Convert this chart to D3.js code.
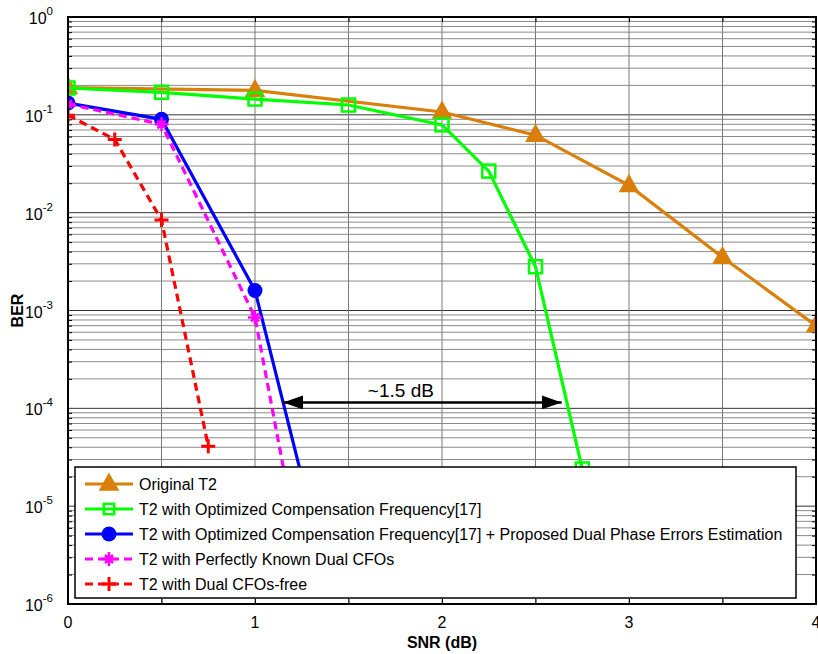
<!DOCTYPE html>
<html>
<head>
<meta charset="utf-8">
<script src="https://cdn.jsdelivr.net/npm/d3@7"></script>
<style>
  body { margin: 0; background: #fff; }
  svg { display: block; font-family: "Liberation Sans", Arial, sans-serif; }
</style>
</head>
<body>
<div class="chart"></div>
<script>
// values
const snrOrig = [0, 1, 2, 2.5, 3, 3.5, 4];
const berOrig = [0.19, 0.178, 0.107, 0.062, 0.019, 0.0035, 0.0007];

const snrOpt = [0, 0.5, 1, 1.5, 2, 2.25, 2.5, 2.75];
const berOpt = [0.188, 0.17, 0.145, 0.126, 0.079, 0.0266, 0.0028, 2.4e-5];

const snrProp = [0, 0.5, 1, 1.25];
const berProp = [0.132, 0.09, 0.0016, 2e-5];

const snrPerf = [0, 0.5, 1, 1.25];
const berPerf = [0.129, 0.08, 0.00085, 2.5e-6];

const snrFree = [0, 0.25, 0.5, 0.75];
const berFree = [0.099, 0.056, 0.0084, 4.1e-5];

const xTicks = [0, 0.5, 1, 1.5, 2, 2.5, 3, 3.5, 4];
const xLabels = ["0", "", "1", "", "2", "", "3", "", "4"];
const yExps = [0, -1, -2, -3, -4, -5, -6];

const legendNames = [
  "Original T2",
  "T2 with Optimized Compensation Frequency[17]",
  "T2 with Optimized Compensation Frequency[17] + Proposed Dual Phase Errors Estimation",
  "T2 with Perfectly Known Dual CFOs",
  "T2 with Dual CFOs-free",
];

const series = [
  { x: snrOrig, y: berOrig, color: "#d97f0a", marker: "triangle", dash: null },
  { x: snrOpt, y: berOpt, color: "#00ff00", marker: "square", dash: null },
  { x: snrProp, y: berProp, color: "#0000ff", marker: "circle", dash: null },
  { x: snrPerf, y: berPerf, color: "#ff00ff", marker: "star", dash: "8,5" },
  { x: snrFree, y: berFree, color: "#ff0000", marker: "plus", dash: "8,5" },
];

const width = 818, height = 654;
const margin = { left: 68, right: 2, top: 17, bottom: 50 };

const svg = d3.select(".chart").append("svg")
  .attr("width", width).attr("height", height);

const x = d3.scaleLinear().domain([0, 4]).range([margin.left, width - margin.right]);
const y = d3.scaleLog().domain([1e-6, 1]).range([height - margin.bottom, margin.top]);

const x0 = x.range()[0], x1 = x.range()[1];
const y0 = y.range()[0], y1 = y.range()[1];

// minor + major y values
const minorY = [];
for (let e = -6; e < 0; e++) {
  for (let k = 2; k <= 9; k++) minorY.push(k * Math.pow(10, e));
}

const grid = svg.append("g");
grid.selectAll(".hmin").data(minorY).join("line")
  .attr("x1", x0).attr("x2", x1)
  .attr("y1", d => y(d)).attr("y2", d => y(d))
  .attr("stroke", "#8a8a8a").attr("stroke-width", 1);
grid.selectAll(".hmaj").data(yExps).join("line")
  .attr("x1", x0).attr("x2", x1)
  .attr("y1", d => y(Math.pow(10, d))).attr("y2", d => y(Math.pow(10, d)))
  .attr("stroke", "#333").attr("stroke-width", 1);
grid.selectAll(".v").data(xTicks).join("line")
  .attr("x1", d => x(d)).attr("x2", d => x(d))
  .attr("y1", y1).attr("y2", y0)
  .attr("stroke", "#7a7a7a").attr("stroke-width", 1);

// axis ticks (inward on all four sides)
svg.append("g").attr("transform", `translate(0,${y0})`)
  .call(d3.axisBottom(x).tickValues(xTicks).tickSize(-5).tickFormat(""))
  .call(g => g.select(".domain").remove());
svg.append("g").attr("transform", `translate(0,${y1})`)
  .call(d3.axisTop(x).tickValues(xTicks).tickSize(-5).tickFormat(""))
  .call(g => g.select(".domain").remove());
svg.append("g").attr("transform", `translate(${x0},0)`)
  .call(d3.axisLeft(y).tickValues(minorY).tickSize(-4).tickFormat(""))
  .call(g => g.select(".domain").remove());
svg.append("g").attr("transform", `translate(${x1},0)`)
  .call(d3.axisRight(y).tickValues(minorY).tickSize(-4).tickFormat(""))
  .call(g => g.select(".domain").remove());
svg.selectAll(".tick line").attr("stroke", "#000");

// x tick labels
svg.append("g").selectAll("text").data(xTicks).join("text")
  .attr("x", d => x(d)).attr("y", y0 + 24)
  .attr("text-anchor", "middle")
  .style("font-size", "16px")
  .text((d, i) => xLabels[i]);

// y tick labels 10^n
const yl = svg.append("g").selectAll("text").data(yExps).join("text")
  .attr("x", x0 - 15).attr("y", d => y(Math.pow(10, d)) + 7)
  .attr("text-anchor", "end")
  .style("font-size", "16px");
yl.append("tspan").text("10");
yl.append("tspan").attr("dy", -9).style("font-size", "11.5px").text(d => d);

// plot data clipped to axes box
svg.append("clipPath").attr("id", "clip").append("rect")
  .attr("x", x0).attr("y", y1).attr("width", x1 - x0).attr("height", y0 - y1);

const plot = svg.append("g").attr("clip-path", "url(#clip)");

function drawMarker(g, type, color, s = 1) {
  if (type === "triangle") {
    g.append("path").attr("d", `M0,${-10 * s} L${9 * s},${6 * s} L${-9 * s},${6 * s} Z`)
      .attr("fill", color).attr("stroke", color).attr("stroke-width", 1.5);
  } else if (type === "square") {
    g.append("rect").attr("x", -6.5 * s).attr("y", -6.5 * s)
      .attr("width", 13 * s).attr("height", 13 * s)
      .attr("fill", "none").attr("stroke", color).attr("stroke-width", 2.5);
  } else if (type === "circle") {
    g.append("circle").attr("r", 7.5 * s).attr("fill", color);
  } else if (type === "star") {
    g.append("path").attr("d", "M-7,0 L7,0 M0,-7 L0,7 M-4,-4 L4,4 M-4,4 L4,-4")
      .attr("stroke", color).attr("stroke-width", 2.5);
  } else {
    g.append("path").attr("d", "M-7,0 L7,0 M0,-7 L0,7")
      .attr("stroke", color).attr("stroke-width", 3);
  }
}

const line = d3.line().x(d => x(d[0])).y(d => y(d[1]));

series.forEach(s => {
  const pts = s.x.map((v, i) => [v, s.y[i]]);
  plot.append("path").datum(pts)
    .attr("d", line)
    .attr("fill", "none")
    .attr("stroke", s.color)
    .attr("stroke-width", 3.2)
    .attr("stroke-dasharray", s.dash);
  pts.forEach(p => {
    const g = plot.append("g").attr("transform", `translate(${x(p[0])},${y(p[1])})`);
    drawMarker(g, s.marker, s.color);
  });
});

// annotation ~1.5 dB
const arrowY = y(1.15e-4);
svg.append("defs").append("marker")
  .attr("id", "head").attr("viewBox", "0 0 20 14")
  .attr("refX", 20).attr("refY", 7)
  .attr("markerWidth", 20).attr("markerHeight", 14)
  .attr("markerUnits", "userSpaceOnUse")
  .attr("orient", "auto-start-reverse")
  .append("path").attr("d", "M0,0 L20,7 L0,14 Z").attr("fill", "#000");
svg.append("line")
  .attr("x1", x(1.15)).attr("x2", x(2.64))
  .attr("y1", arrowY).attr("y2", arrowY)
  .attr("stroke", "#000").attr("stroke-width", 2.5)
  .attr("marker-start", "url(#head)").attr("marker-end", "url(#head)");
svg.append("text")
  .attr("x", x(1.78)).attr("y", arrowY - 5)
  .attr("text-anchor", "middle")
  .style("font-size", "19px")
  .text("~1.5 dB");

// axes box
svg.append("rect")
  .attr("x", x0).attr("y", y1).attr("width", x1 - x0).attr("height", y0 - y1)
  .attr("fill", "none").attr("stroke", "#000").attr("stroke-width", 2);

// legend
const legX = 75, legY = 467, legW = 721, legH = 131, rowH = 25;
const legend = svg.append("g");
legend.append("rect")
  .attr("x", legX).attr("y", legY).attr("width", legW).attr("height", legH)
  .attr("fill", "#fff").attr("stroke", "#000").attr("stroke-width", 1.5);
series.forEach((s, i) => {
  const cy = legY + 17 + i * rowH;
  legend.append("line")
    .attr("x1", legX + 10).attr("x2", legX + 58)
    .attr("y1", cy).attr("y2", cy)
    .attr("stroke", s.color).attr("stroke-width", 3.2)
    .attr("stroke-dasharray", s.dash);
  const g = legend.append("g").attr("transform", `translate(${legX + 34},${cy})`);
  drawMarker(g, s.marker, s.color, s.marker === "square" ? 0.8 : 1);
  legend.append("text")
    .attr("x", legX + 64).attr("y", cy + 6)
    .style("font-size", "16px")
    .text(legendNames[i]);
});

// axis titles
svg.append("text")
  .attr("transform", `translate(23,${(y0 + y1) / 2}) rotate(-90)`)
  .attr("text-anchor", "middle")
  .style("font-size", "16px").style("font-weight", "700")
  .text("BER");
svg.append("text")
  .attr("x", (x0 + x1) / 2).attr("y", height - 6)
  .attr("text-anchor", "middle")
  .style("font-size", "16px").style("font-weight", "700")
  .text("SNR (dB)");
</script>
</body>
</html>
